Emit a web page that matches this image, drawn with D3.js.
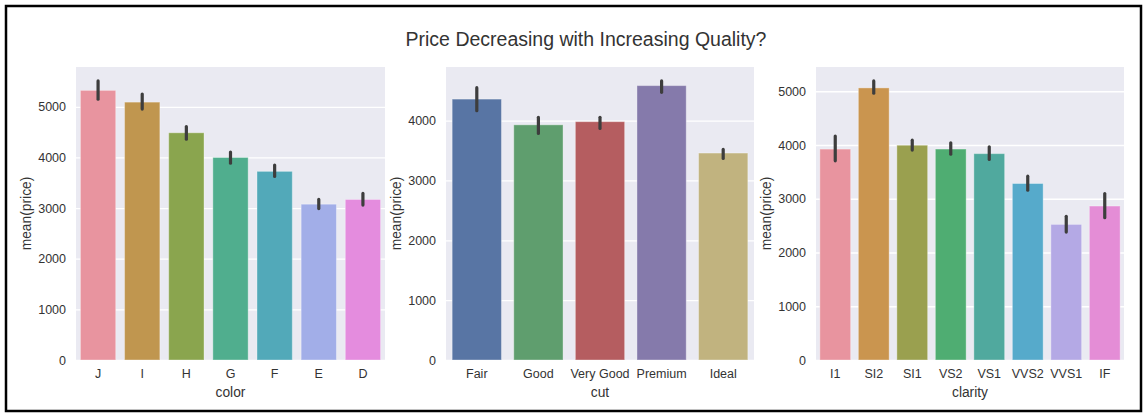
<!DOCTYPE html>
<html>
<head>
<meta charset="utf-8">
<script src="https://cdn.jsdelivr.net/npm/d3@7"></script>
<style>
  html, body { margin: 0; padding: 0; background: #fff; }
  svg { display: block; }
  text { font-family: "Liberation Sans", Arial, sans-serif; }
</style>
</head>
<body>
<svg id="chart" width="1147" height="415"></svg>
<script>
// ---- data ----
const titleText = "Price Decreasing with Increasing Quality?";
const yLabel = "mean(price)";

const colorCats = ["J", "I", "H", "G", "F", "E", "D"];
const colorMeans = [5323.8, 5091.9, 4486.7, 3999.1, 3724.9, 3076.8, 3169.9];
const colorLow = [5150, 4955, 4360, 3885, 3623, 2990, 3060];
const colorHigh = [5510, 5250, 4610, 4105, 3848, 3170, 3290];
const colorFill = ["#e8949f", "#c0964f", "#8aa54e", "#50ae8e", "#52a9b9", "#a2aee8", "#e48cde"];
const colorTicks = [0, 1000, 2000, 3000, 4000, 5000];

const cutCats = ["Fair", "Good", "Very Good", "Premium", "Ideal"];
const cutMeans = [4358.8, 3928.9, 3981.8, 4584.3, 3457.5];
const cutLow = [4164, 3786, 3869, 4472, 3367];
const cutHigh = [4550, 4054, 4054, 4662, 3518];
const cutFill = ["#5875a4", "#5f9e6e", "#b55d60", "#857aab", "#c1b37f"];
const cutTicks = [0, 1000, 2000, 3000, 4000];

const clarityCats = ["I1", "SI2", "SI1", "VS2", "VS1", "VVS2", "VVS1", "IF"];
const clarityMeans = [3924.2, 5063.0, 3996.0, 3925.0, 3839.5, 3283.7, 2523.1, 2864.8];
const clarityLow = [3705, 4963, 3905, 3830, 3731, 3159, 2381, 2649];
const clarityHigh = [4166, 5192, 4091, 4041, 3966, 3420, 2673, 3097];
const clarityFill = ["#e8949f", "#ca954f", "#9aa04f", "#4fad72", "#50a99e", "#56aacb", "#b4a9e5", "#e48dd6"];
const clarityTicks = [0, 1000, 2000, 3000, 4000, 5000];

// ---- layout ----
const svg = d3.select("#chart");
const textColor = "#333333";

svg.append("rect")
  .attr("x", 6).attr("y", 6).attr("width", 1135).attr("height", 405)
  .attr("fill", "#fff").attr("stroke", "#000").attr("stroke-width", 2.5);

svg.append("text")
  .attr("x", 586).attr("y", 46)
  .attr("text-anchor", "middle")
  .attr("font-size", 19.5)
  .attr("fill", textColor)
  .text(titleText);

const panels = [
  { cats: colorCats, means: colorMeans, low: colorLow, high: colorHigh, fill: colorFill, ticks: colorTicks, xlab: "color", x0: 76, x1: 385, ylabX: 26 },
  { cats: cutCats, means: cutMeans, low: cutLow, high: cutHigh, fill: cutFill, ticks: cutTicks, xlab: "cut", x0: 446, x1: 754, ylabX: 396 },
  { cats: clarityCats, means: clarityMeans, low: clarityLow, high: clarityHigh, fill: clarityFill, ticks: clarityTicks, xlab: "clarity", x0: 816, x1: 1124, ylabX: 766 }
];

const yTop = 67, yBot = 360;

panels.forEach(p => {
  const g = svg.append("g");
  const x = d3.scaleBand().domain(p.cats).range([p.x0, p.x1]).paddingInner(0.2).paddingOuter(0.1);
  const ymax = d3.max(p.high) * 1.05;
  const y = d3.scaleLinear().domain([0, ymax]).range([yBot, yTop]);

  // background
  g.append("rect").attr("x", p.x0).attr("y", yTop).attr("width", p.x1 - p.x0).attr("height", yBot - yTop)
    .attr("fill", "#eaeaf2");

  // gridlines via axis
  const grid = g.append("g").attr("transform", `translate(${p.x0},0)`)
    .call(d3.axisLeft(y).tickValues(p.ticks).tickSize(-(p.x1 - p.x0)).tickFormat(""));
  grid.select(".domain").remove();
  grid.selectAll("line").attr("stroke", "#fff").attr("stroke-width", 1.3);

  // y tick labels
  const ya = g.append("g").attr("transform", `translate(${p.x0},0)`)
    .call(d3.axisLeft(y).tickValues(p.ticks).tickSize(0).tickPadding(10).tickFormat(d3.format("d")));
  ya.select(".domain").remove();
  ya.selectAll("text").attr("font-size", 12.5).attr("fill", textColor)
    .attr("font-family", "'Liberation Sans', Arial, sans-serif");

  // x tick labels
  const xa = g.append("g").attr("transform", `translate(0,${yBot})`)
    .call(d3.axisBottom(x).tickSize(0).tickPadding(9));
  xa.select(".domain").remove();
  xa.selectAll("text").attr("font-size", 12.5).attr("fill", textColor)
    .attr("font-family", "'Liberation Sans', Arial, sans-serif");

  // bars
  g.selectAll("rect.bar").data(p.cats).enter().append("rect")
    .attr("class", "bar")
    .attr("x", d => x(d))
    .attr("width", x.bandwidth())
    .attr("y", (d, i) => y(p.means[i]))
    .attr("height", (d, i) => yBot - y(p.means[i]))
    .attr("fill", (d, i) => p.fill[i])
    .attr("stroke", "rgba(255,255,255,0.35)")
    .attr("stroke-width", 1);

  // error bars
  g.selectAll("line.err").data(p.cats).enter().append("line")
    .attr("class", "err")
    .attr("x1", d => x(d) + x.bandwidth() / 2)
    .attr("x2", d => x(d) + x.bandwidth() / 2)
    .attr("y1", (d, i) => y(p.low[i]))
    .attr("y2", (d, i) => y(p.high[i]))
    .attr("stroke", "#3d3d3d")
    .attr("stroke-width", 3.2)
    .attr("stroke-linecap", "round");

  // axis labels
  g.append("text")
    .attr("x", (p.x0 + p.x1) / 2).attr("y", 397)
    .attr("text-anchor", "middle").attr("font-size", 13.8).attr("fill", textColor)
    .text(p.xlab);
  g.append("text")
    .attr("transform", `translate(${p.ylabX},${(yTop + yBot) / 2}) rotate(-90)`)
    .attr("text-anchor", "middle").attr("dy", "0.35em")
    .attr("font-size", 13.8).attr("fill", textColor)
    .text(yLabel);
});
</script>
</body>
</html>
